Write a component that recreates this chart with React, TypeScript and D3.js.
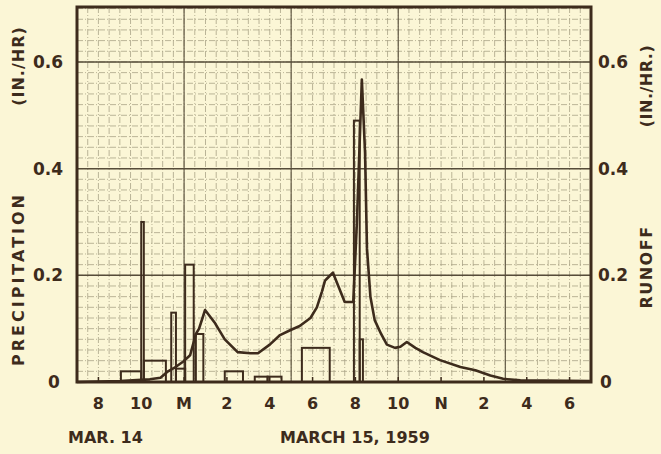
import React from "react";
import * as d3 from "d3";

// hours counted from midnight Mar 14 (24 = midnight, 36 = noon Mar 15)
const tickHours = [20, 22, 24, 26, 28, 30, 32, 34, 36, 38, 40, 42];
const tickLabels = ["8", "10", "M", "2", "4", "6", "8", "10", "N", "2", "4", "6"];
const yTicks = [0, 0.2, 0.4, 0.6];
const yTickLabels = ["0", "0.2", "0.4", "0.6"];

// precipitation blocks (in./hr)
const precipStart = [21.05, 22.0, 22.12, 23.4, 23.62, 24.05, 24.55, 25.9, 27.3, 27.9, 29.5, 31.93, 32.2];
const precipEnd = [22.0, 22.12, 23.15, 23.62, 24.05, 24.45, 24.9, 26.75, 27.9, 28.55, 30.8, 32.2, 32.35];
const precipValues = [0.02, 0.3, 0.04, 0.13, 0.025, 0.22, 0.09, 0.02, 0.01, 0.01, 0.064, 0.49, 0.08];

// runoff hydrograph (in./hr)
const runoffHours = [
  19.0, 21.0, 22.4, 22.9, 23.25, 23.6, 23.95, 24.28, 24.55, 24.7, 24.98, 25.45, 25.9, 26.5, 27.1,
  27.45, 28.0, 28.48, 28.95, 29.4, 29.9, 30.2, 30.44, 30.58, 30.7, 30.95, 31.2, 31.5, 31.9, 32.07,
  32.3, 32.45, 32.54, 32.7, 32.9, 33.2, 33.47, 33.85, 34.1, 34.4, 34.8, 35.15, 35.95, 36.9, 37.6,
  38.3, 38.9, 39.7, 42.95,
];
const runoffValues = [
  0.0, 0.002, 0.005, 0.008, 0.02, 0.028, 0.038, 0.05, 0.09, 0.1, 0.135, 0.11, 0.08, 0.056, 0.054,
  0.054, 0.07, 0.088, 0.097, 0.105, 0.12, 0.14, 0.17, 0.19, 0.195, 0.205, 0.18, 0.15, 0.15, 0.3,
  0.567, 0.43, 0.25, 0.16, 0.116, 0.09, 0.07, 0.064, 0.066, 0.075, 0.064, 0.056, 0.041, 0.028, 0.022,
  0.012, 0.006, 0.003, 0.002,
];

const ink = "#3d2b1c";
const paper = "#fbf6d6";
const font = "'DejaVu Sans', Verdana, sans-serif";

export default function App() {
  const width = 661;
  const height = 454;
  const x = d3.scaleLinear().domain([19, 43]).range([77, 591]);
  const y = d3.scaleLinear().domain([0, 0.703]).range([382, 7]);

  const minorX = d3.range(19, 43.01, 0.5);
  const majorX = d3.range(19, 43.01, 5);
  const minorY = d3.range(0, 0.701, 0.02);
  const majorY = d3.range(0, 0.701, 0.2);

  const line = d3
    .line<number>()
    .x((_, i) => x(runoffHours[i]))
    .y((d) => y(d));

  const [x0, x1] = x.range();
  const [y0, y1] = y.range();

  return (
    <svg
      width={width}
      height={height}
      style={{ position: "absolute", left: 0, top: 0, background: paper }}
      fontFamily={font}
    >
      <rect width={width} height={height} fill={paper} />

      {/* graph paper */}
      <g>
        {minorX.map((h, i) => (
          <line key={"mx" + i} x1={x(h)} x2={x(h)} y1={y1} y2={y0} stroke="#aaa387" strokeWidth={0.8} strokeDasharray="6,2,1,2" />
        ))}
        {minorY.map((v, i) => (
          <line key={"my" + i} x1={x0} x2={x1} y1={y(v)} y2={y(v)} stroke="#aaa387" strokeWidth={0.8} strokeDasharray="6,2,1,2" />
        ))}
        {majorX.map((h, i) => (
          <line key={"Mx" + i} x1={x(h)} x2={x(h)} y1={y1} y2={y0} stroke="#655c47" strokeWidth={1.2} />
        ))}
        {majorY.map((v, i) => (
          <line key={"My" + i} x1={x0} x2={x1} y1={y(v)} y2={y(v)} stroke="#564c39" strokeWidth={1.5} />
        ))}
      </g>

      {/* precipitation blocks */}
      <g fill="none" stroke={ink} strokeWidth={2}>
        {precipValues.map((v, i) => (
          <rect
            key={"p" + i}
            x={x(precipStart[i])}
            y={y(v)}
            width={x(precipEnd[i]) - x(precipStart[i])}
            height={y(0) - y(v)}
          />
        ))}
      </g>

      {/* runoff */}
      <path d={line(runoffValues) || ""} fill="none" stroke={ink} strokeWidth={2.6} strokeLinejoin="round" />

      {/* frame */}
      <rect x={x0} y={y1} width={x1 - x0} height={y0 - y1} fill="none" stroke={ink} strokeWidth={3} />
      {tickHours.map((h, i) => (
        <line key={"t" + i} x1={x(h)} x2={x(h)} y1={y0} y2={y0 - 5} stroke={ink} strokeWidth={1.5} />
      ))}

      {/* tick labels */}
      <g fill={ink} fontWeight="bold" fontSize={16}>
        {tickHours.map((h, i) => (
          <text key={"xl" + i} x={x(h)} y={409} textAnchor="middle">
            {tickLabels[i]}
          </text>
        ))}
      </g>
      <g fill={ink} fontWeight="bold" fontSize={17}>
        {yTicks.map((v, i) => (
          <text key={"yl" + i} x={i === 0 ? 54 : 48} y={y(v) + 6} textAnchor="middle">
            {yTickLabels[i]}
          </text>
        ))}
        {yTicks.map((v, i) => (
          <text key={"yr" + i} x={i === 0 ? 606 : 613} y={y(v) + 6} textAnchor="middle">
            {yTickLabels[i]}
          </text>
        ))}
      </g>

      {/* axis titles */}
      <g fill={ink} fontWeight="bold" fontSize={16}>
        <text transform="translate(24,279) rotate(-90)" textAnchor="middle" letterSpacing={3}>PRECIPITATION</text>
        <text transform="translate(24,66) rotate(-90)" textAnchor="middle" letterSpacing={1}>(IN./HR)</text>
        <text transform="translate(652,267) rotate(-90)" textAnchor="middle" letterSpacing={1.5}>RUNOFF</text>
        <text transform="translate(652,86) rotate(-90)" textAnchor="middle" letterSpacing={0.5}>(IN./HR.)</text>
      </g>
      <g fill={ink} fontWeight="bold" fontSize={16}>
        <text x={68} y={443}>MAR. 14</text>
        <text x={280} y={443}>MARCH 15, 1959</text>
      </g>
    </svg>
  );
}
